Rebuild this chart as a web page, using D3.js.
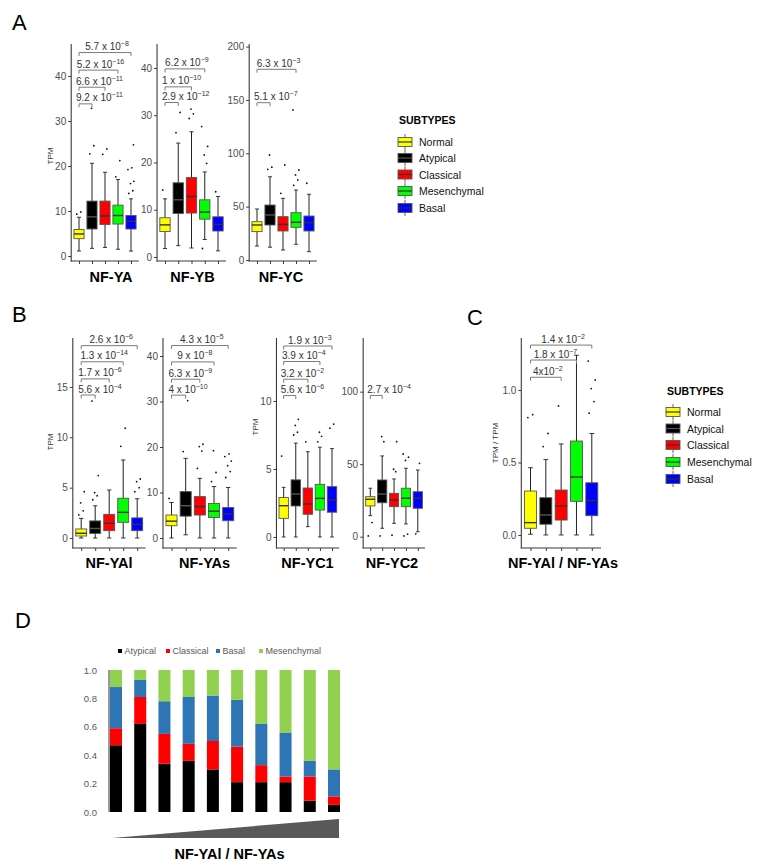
<!DOCTYPE html>
<html><head><meta charset="utf-8">
<script src="https://cdn.jsdelivr.net/npm/d3@7"></script>
<style>body{margin:0;background:#fff}svg{display:block;font-family:"Liberation Sans",Arial,Helvetica,sans-serif}</style>
</head><body><svg id="c" width="759" height="865"></svg>
<script>
// ---------- DATA ----------
const subtypes = ["Normal","Atypical","Classical","Mesenchymal","Basal"];
const subtypeColors = ["#ffff00","#000000","#ff0000","#00ff00","#0000ff"];

// box stats per subtype: [lower whisker, Q1, median, Q3, upper whisker]
const nfyaStats = [[1.1,3.85,4.9,5.9,8.6],[1.7,6.0,8.7,12.2,20.6],[1.9,7.0,8.9,12.2,18.6],[1.5,7.1,9.0,11.3,17.0],[1.1,6.0,7.7,9.0,12.7]];
const nfyaPoints = [[9.3,9.8],[22.7,24.5,32.8],[22.6,23.8],[17.6,21.2],[13.9,14.5,16.1,16.6,19.2,19.6,24.7]];
const nfyaSig = [[1,33.8,"9.2 x 10","−11"],[2,37.5,"6.6 x 10","−11"],[3,41.3,"5.2 x 10","−16"],[4,45.2,"5.7 x 10","−8"]];

const nfybStats = [[1.8,5.4,6.8,8.3,12.3],[2.4,9.2,12.1,15.7,24.1],[1.9,9.3,12.8,16.8,26.5],[3.7,8.0,9.5,12.1,18.0],[1.3,5.5,6.9,8.5,12.8]];
const nfybPoints = [[14.2],[26.3,30.6],[29.3,30.3,31.3],[1.8,19.8,21.6,23.4,27.6],[13.8]];
const nfybSig = [[1,32.7,"2.9 x 10","−12"],[2,36.0,"1 x 10","−10"],[3,39.8,"6.2 x 10","−9"]];

const nfycStats = [[13.1,26.6,32.8,35.9,47.8],[12,32.8,42.2,51.5,78],[9.4,27.2,33.4,40.6,57.8],[14.7,30.6,35.3,44.3,65.6],[7.8,27.2,35,41.2,61.6]];
const nfycPoints = [[],[85,87,98.4],[62.5,89],[70,75,79.7,84.4,140.6],[71.9]];
const nfycSig = [[1,147.4,"5.1 x 10","−7"],[3,178.7,"6.3 x 10","−3"]];

const nfyalStats = [[0,0.2,0.47,0.9,1.95],[0,0.45,0.95,1.7,3.2],[0,0.73,1.46,2.35,4.77],[0,1.56,2.55,3.95,7.75],[0,0.73,1.36,2.0,3.9]];
const nfyalPoints = [[2.3,2.7,3.5,4.6],[3.8,4.2,4.5,6.2,13.6],[],[9.1,10.9],[4.6,5.0,5.6,5.86]];
const nfyalSig = [[1,14.2,"5.6 x 10","−4"],[2,15.8,"1.7 x 10","−6"],[3,17.5,"1.3 x 10","−14"],[4,19.1,"2.6 x 10","−6"]];

const nfyasStats = [[0,2.7,3.7,5.05,7.8],[0.7,4.8,7.1,10.2,17.5],[0,5.05,6.9,9.1,13.1],[0,4.5,5.9,7.6,11.3],[0,3.8,5.3,6.7,11.1]];
const nfyasPoints = [[8.7],[19,30.2],[15.3,19.1,20.1,20.6],[12.4,14.4,19.2],[13.3,14.6,15.9,16.9,17.9,18.5]];
const nfyasSig = [[1,31.4,"4 x 10","−10"],[2,34.9,"6.3 x 10","−9"],[3,38.7,"9 x 10","−8"],[4,42.3,"4.3 x 10","−5"]];

const nfyc1Stats = [[0,1.37,2.3,2.9,3.65],[0,2.28,3.16,4.2,6.9],[0.76,1.67,2.43,3.6,6.27],[0,1.98,2.84,3.87,6.6],[0,1.82,2.72,3.7,6.5]];
const nfyc1Points = [[5.95],[7.5,7.7,8.2,8.65],[7.0],[7.0,7.4,7.7],[8.0,8.3]];
const nfyc1Sig = [[1,10.4,"5.6 x 10","−6"],[2,11.6,"3.2 x 10","−2"],[3,12.9,"3.9 x 10","−4"],[4,14.04,"1.9 x 10","−3"]];

const nfyc2Stats = [[14.5,21.2,25.8,27.6,33.4],[5.8,23.4,29.4,39.1,55.7],[9.2,20.7,25.3,29.9,39.8],[8.8,20.7,26.5,33.4,47.2],[3.4,19.6,26.5,31,46]];
const nfyc2Points = [[0.5,9.7],[0.5,65.5,69],[1,44.8,46.5,65.5],[0.5,1.8,52.6,54.8,57],[2,50.6]];
const nfyc2Sig = [[1,97.4,"2.7 x 10","−4"]];

const ratioStats = [[0.005,0.046,0.085,0.303,0.464],[0,0.074,0.138,0.257,0.52],[0,0.103,0.2,0.31,0.628],[0,0.232,0.40,0.648,1.24],[0,0.133,0.237,0.36,0.70]];
const ratioPoints = [[0.81,0.83],[0.61,0.70],[0.89],[],[0.84,0.92,1.01,1.07,1.20]];
const ratioSig = [[2,1.088,"4x10","−2"],[3,1.207,"1.8 x 10","−7"],[4,1.31,"1.4 x 10","−2"]];

// Panel D: fraction of subtypes per NF-YAl/NF-YAs bin
const dBins = ["1","2","3","4","5","6","7","8","9","10"];
const dKeys = ["Atypical","Classical","Basal","Mesenchymal"];
const dColors = ["#000000","#ff0000","#2e75b6","#92d050"];
const dAtypical    = [0.47,0.62,0.34,0.36,0.30,0.21,0.21,0.21,0.08,0.05];
const dClassical   = [0.12,0.19,0.21,0.12,0.20,0.25,0.12,0.04,0.17,0.06];
const dBasal       = [0.29,0.12,0.23,0.33,0.32,0.33,0.29,0.31,0.11,0.19];
const dMesenchymal = [0.12,0.07,0.22,0.19,0.18,0.21,0.38,0.44,0.64,0.70];
const dTicks = [0,0.2,0.4,0.6,0.8,1.0];

// ---------- LAYOUT ----------
const panels = [
 {title:"NF-YA", stats:nfyaStats, pts:nfyaPoints, sig:nfyaSig, x0:79, x1:131, top:44, bottom:261, dom:[-1.11,47.1], ticks:[0,10,20,30,40], tpos:[111,282], ylab:[50,156,"TPM"]},
 {title:"NF-YB", stats:nfybStats, pts:nfybPoints, sig:nfybSig, x0:165, x1:218, top:44, bottom:261, dom:[-0.85,45.07], ticks:[0,10,20,30,40], tpos:[192.5,282]},
 {title:"NF-YC", stats:nfycStats, pts:nfycPoints, sig:nfycSig, x0:257, x1:309, top:44, bottom:261, dom:[-0.94,202.4], ticks:[0,50,100,150,200], tpos:[281,282]},
 {title:"NF-YAl", stats:nfyalStats, pts:nfyalPoints, sig:nfyalSig, x0:81.2, x1:137.2, top:338, bottom:548, dom:[-0.99,19.86], ticks:[0,5,10,15], tpos:[109,568], ylab:[50,442,"TPM"]},
 {title:"NF-YAs", stats:nfyasStats, pts:nfyasPoints, sig:nfyasSig, x0:171.5, x1:228.2, top:338, bottom:548, dom:[-2.2,43.96], ticks:[0,10,20,30,40], tpos:[204.5,568]},
 {title:"NF-YC1", stats:nfyc1Stats, pts:nfyc1Points, sig:nfyc1Sig, x0:283.7, x1:332, top:338, bottom:548, dom:[-0.81,14.63], ticks:[0,5,10], tpos:[307.5,568], ylab:[255,427,"TPM"]},
 {title:"NF-YC2", stats:nfyc2Stats, pts:nfyc2Points, sig:nfyc2Sig, x0:370.3, x1:417.8, top:338, bottom:548, dom:[-7.8,137.0], ticks:[0,50,100], tpos:[392,568]},
 {title:"NF-YAl / NF-YAs", stats:ratioStats, pts:ratioPoints, sig:ratioSig, x0:530.5, x1:591.8, top:338, bottom:548, dom:[-0.09,1.359], ticks:[0,0.5,1], fmt:".1f", tpos:[563,568], ylab:[495,443,"TPM / TPM"]}
];
const jitterPattern = [-0.22,0.18,-0.05,0.28,-0.3,0.08,0.24,-0.14,0.02,-0.26];

const svg = d3.select("#c");
const axisCol = "#3a3a3a";

function drawPanel(p){
  const g = svg.append("g");
  const x = d3.scalePoint().domain(subtypes).range([p.x0, p.x1]);
  const step = x.step();
  const w = step*0.78;
  const y = d3.scaleLinear().domain(p.dom).range([p.bottom, p.top]);
  const ax = p.x0 - 0.6*step, xend = p.x1 + 0.6*step;

  const gy = g.append("g").attr("transform",`translate(${ax},0)`)
    .call(d3.axisLeft(y).tickValues(p.ticks).tickSize(3).tickPadding(2).tickFormat(d3.format(p.fmt||"d")));
  gy.select(".domain").remove();
  gy.attr("font-family",null).attr("font-size",null);
  gy.selectAll(".tick line").attr("stroke",axisCol);
  gy.selectAll(".tick text").attr("fill","#4d4d4d").attr("font-size",10);
  g.append("line").attr("x1",ax).attr("x2",ax).attr("y1",p.top).attr("y2",p.bottom+0.5).attr("stroke",axisCol).attr("stroke-width",1.1);

  const gx = g.append("g").attr("transform",`translate(0,${p.bottom})`)
    .call(d3.axisBottom(x).tickSize(3).tickFormat(""));
  gx.select(".domain").remove();
  gx.selectAll(".tick line").attr("stroke",axisCol);
  g.append("line").attr("x1",ax-0.5).attr("x2",xend).attr("y1",p.bottom).attr("y2",p.bottom).attr("stroke",axisCol).attr("stroke-width",1.1);

  const data = subtypes.map((s,i)=>({s, st:p.stats[i], pts:p.pts[i], c:subtypeColors[i]}));
  const bx = g.selectAll("g.box").data(data).join("g").attr("class","box");
  bx.append("line").attr("x1",d=>x(d.s)).attr("x2",d=>x(d.s)).attr("y1",d=>y(d.st[0])).attr("y2",d=>y(d.st[1])).attr("stroke","#222").attr("stroke-width",1);
  bx.append("line").attr("x1",d=>x(d.s)).attr("x2",d=>x(d.s)).attr("y1",d=>y(d.st[3])).attr("y2",d=>y(d.st[4])).attr("stroke","#222").attr("stroke-width",1);
  [0,4].forEach(k=>{
    bx.append("line").attr("x1",d=>x(d.s)-w*0.2).attr("x2",d=>x(d.s)+w*0.2).attr("y1",d=>y(d.st[k])).attr("y2",d=>y(d.st[k])).attr("stroke","#222").attr("stroke-width",0.9);
  });
  bx.append("rect").attr("x",d=>x(d.s)-w/2).attr("width",w).attr("y",d=>y(d.st[3])).attr("height",d=>y(d.st[1])-y(d.st[3]))
    .attr("fill",d=>d.c).attr("stroke","#555").attr("stroke-width",0.9);
  bx.append("line").attr("x1",d=>x(d.s)-w/2).attr("x2",d=>x(d.s)+w/2).attr("y1",d=>y(d.st[2])).attr("y2",d=>y(d.st[2])).attr("stroke",d=>d.c==="#000000"?"#555":"#333").attr("stroke-width",1.4);
  bx.each(function(d){
    d3.select(this).selectAll("circle").data(d.pts).join("circle")
      .attr("cx",(v,j)=>x(d.s)+jitterPattern[j%jitterPattern.length]*w)
      .attr("cy",v=>y(v)).attr("r",0.9).attr("fill","#111");
  });

  // significance brackets
  p.sig.forEach(([k,v,mant,ex])=>{
    const xa = x(subtypes[0]), xb = x(subtypes[k]), yy = y(v);
    g.append("path").attr("d",`M${xa},${yy+3.5}V${yy}H${xb}V${yy+3.5}`).attr("fill","none").attr("stroke","#7a7a7a").attr("stroke-width",1);
    const t = g.append("text").attr("y",yy-2.5).attr("text-anchor","middle").attr("font-size",10).attr("fill","#333");
    t.append("tspan").text(mant);
    t.append("tspan").attr("dy",-4).attr("font-size",7).text(ex);
    const tw = t.node().getComputedTextLength();
    const cx = Math.max((xa+xb)/2 + 2, xa - 3 + tw/2);
    t.attr("x",cx);
  });

  g.append("text").attr("x",p.tpos[0]).attr("y",p.tpos[1]).attr("text-anchor","middle").attr("font-weight","bold").attr("font-size",14.5).attr("fill","#000").text(p.title);
  if(p.ylab){
    g.append("text").attr("transform",`translate(${p.ylab[0]},${p.ylab[1]}) rotate(-90)`).attr("text-anchor","middle").attr("dominant-baseline","central")
      .attr("font-size",8).attr("fill","#333").text(p.ylab[2]);
  }
}
panels.forEach(drawPanel);

// Legends
function drawLegend(x0, ty, rowY){
  const g = svg.append("g");
  g.append("text").attr("x",x0+1).attr("y",ty).attr("font-weight","bold").attr("font-size",10.5).attr("fill","#000").text("SUBTYPES");
  const rows = g.selectAll("g").data(subtypes).join("g").attr("transform",(d,i)=>`translate(${x0},${rowY[i]})`);
  rows.append("line").attr("x1",7).attr("x2",7).attr("y1",-8).attr("y2",8).attr("stroke","#666");
  rows.append("rect").attr("x",0).attr("y",-4.5).attr("width",14).attr("height",9).attr("fill",(d,i)=>subtypeColors[i]).attr("stroke","#555").attr("stroke-width",0.9);
  rows.append("line").attr("x1",0).attr("x2",14).attr("y1",0).attr("y2",0).attr("stroke",(d,i)=>i===1?"#555":"#333").attr("stroke-width",1.2);
  rows.append("text").attr("x",21).attr("y",0).attr("dominant-baseline","central").attr("font-size",10.5).attr("fill","#111").text(d=>d);
}
drawLegend(398, 124, [142,158,174.5,191,208]);
drawLegend(666, 395, [412,428.5,445,462,479]);

// Panel letters
[["A",12,30],["B",12,322],["C",467,325],["D",15,628]].forEach(([t,x,yb])=>{
  svg.append("text").attr("x",x).attr("y",yb).attr("font-size",22).attr("fill","#000").text(t);
});

// ---------- Panel D ----------
(function(){
  const g = svg.append("g");
  const rows = dBins.map((b,i)=>({bin:b, Atypical:dAtypical[i], Classical:dClassical[i], Basal:dBasal[i], Mesenchymal:dMesenchymal[i]}));
  const stack = d3.stack().keys(dKeys)(rows);
  const x = d3.scalePoint().domain(dBins).range([116,334]);
  const bw = 12;
  const y = d3.scaleLinear().domain([0,1]).range([812,670]);
  const gy = g.append("g").attr("transform","translate(109,0)")
    .call(d3.axisLeft(y).tickValues(dTicks).tickSize(0).tickPadding(12).tickFormat(d3.format(".1f")));
  gy.select(".domain").remove();
  gy.attr("font-family",null).attr("font-size",null);
  gy.selectAll("text").attr("font-size",9.5).attr("fill","#595959");
  g.append("line").attr("x1",109).attr("x2",109).attr("y1",670).attr("y2",812).attr("stroke","#333").attr("stroke-width",1);
  g.selectAll("g.layer").data(stack).join("g").attr("class","layer").attr("fill",(d,i)=>dColors[i])
    .selectAll("rect").data(d=>d).join("rect")
    .attr("x",d=>x(d.data.bin)-bw/2).attr("width",bw)
    .attr("y",d=>y(d[1])).attr("height",d=>y(d[0])-y(d[1]));
  // legend
  const lx = [118,166,216,259];
  dKeys.forEach((k,i)=>{
    g.append("rect").attr("x",lx[i]).attr("y",649).attr("width",4).attr("height",4).attr("fill",dColors[i]);
    g.append("text").attr("x",lx[i]+6.5).attr("y",651).attr("dominant-baseline","central").attr("font-size",9).attr("fill","#595959").text(k);
  });
  // gradient triangle
  g.append("path").attr("d","M112,838L339,819L339,838Z").attr("fill","#595959");
  g.append("text").attr("x",229.5).attr("y",859).attr("text-anchor","middle").attr("font-weight","bold").attr("font-size",14.5).attr("fill","#000").text("NF-YAl / NF-YAs");
})();
</script></body></html>
